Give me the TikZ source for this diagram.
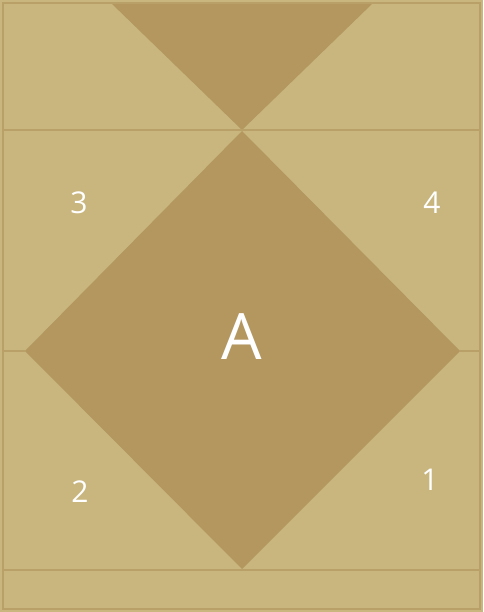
\documentclass[tikz,border=0pt]{standalone}
\usepackage{fontspec}
\setmainfont{Open Sans}
\definecolor{sand}{HTML}{C9B67F}
\definecolor{ochre}{HTML}{B3975F}
\definecolor{seam}{HTML}{B8A068}
\tikzset{
  seam/.style={draw=seam,line width=2pt},
  patch/.style={fill=ochre},
  num/.style={text=white,font=\fontsize{30}{30}\selectfont,inner sep=0pt}
}
\begin{document}
\begin{tikzpicture}[x=1pt,y=-1pt]
   \useasboundingbox (0,0) rectangle (483,612);
   \fill[sand] (0,0) rectangle (483,612);
   % dark pieces
   \fill[patch] (111, 3) -- (373, 3) -- (242,130) -- cycle;
   \fill[patch] (242,131) -- (460,351) -- (242,569) -- (25,351) -- cycle;
   % seams
   \draw[seam] (  3, 3) rectangle (480,609);
   \draw[seam] (  3,130) -- (480,130);
   \draw[seam] (  3,351) -- ( 25,351);
   \draw[seam] (460,351) -- (480,351);
   \draw[seam] (  3,570) -- (480,570);
   % labels
   \node[num,font=\fontsize{64}{64}\selectfont] (a) at (242,337) {A};
   \node[num] (n3) at ( 79,203) {3};
   \node[num] (n4) at (432,203) {4};
   \node[num] (n2) at ( 80,492) {2};
   \node[num] (n1) at (430,480) {1};
\end{tikzpicture}
\end{document}
